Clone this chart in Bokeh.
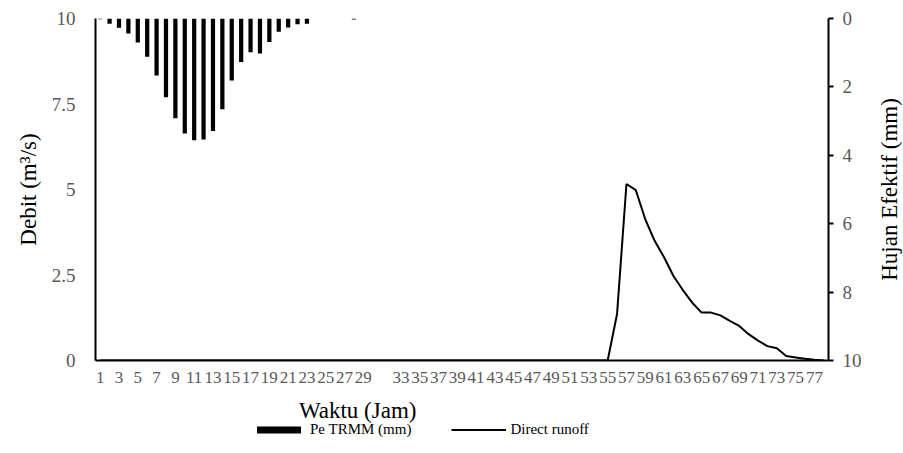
import math

from bokeh.plotting import figure
from bokeh.layouts import gridplot
from bokeh.models import (Range1d, LinearAxis, FixedTicker, Legend, LegendItem,
                          Label, ColumnDataSource)
from bokeh.embed import file_html
from bokeh.resources import INLINE

# Hourly time steps (Jam)
hours = list(range(1, 79))

# Effective rainfall, Pe TRMM (mm), one value per hour
rain = [0.02, 0.15, 0.27, 0.44, 0.70, 1.12, 1.67, 2.30, 2.92, 3.36,
        3.56, 3.54, 3.29, 2.65, 1.81, 1.27, 0.99, 1.02, 0.69, 0.39,
        0.26, 0.17, 0.15, 0.00, 0.00, 0.00, 0.00, 0.03, 0.00, 0.00,
        0.00, 0.00, 0.00, 0.00, 0.00, 0.00, 0.00, 0.00, 0.00, 0.00,
        0.00, 0.00, 0.00, 0.00, 0.00, 0.00, 0.00, 0.00, 0.00, 0.00,
        0.00, 0.00, 0.00, 0.00, 0.00, 0.00, 0.00, 0.00, 0.00, 0.00,
        0.00, 0.00, 0.00, 0.00, 0.00, 0.00, 0.00, 0.00, 0.00, 0.00,
        0.00, 0.00, 0.00, 0.00, 0.00, 0.00, 0.00, 0.00]

# Direct runoff (m3/s), one value per hour
runoff = [0.00, 0.00, 0.00, 0.00, 0.00, 0.00, 0.00, 0.00, 0.00, 0.00,
          0.00, 0.00, 0.00, 0.00, 0.00, 0.00, 0.00, 0.00, 0.00, 0.00,
          0.00, 0.00, 0.00, 0.00, 0.00, 0.00, 0.00, 0.00, 0.00, 0.00,
          0.00, 0.00, 0.00, 0.00, 0.00, 0.00, 0.00, 0.00, 0.00, 0.00,
          0.00, 0.00, 0.00, 0.00, 0.00, 0.00, 0.00, 0.00, 0.00, 0.00,
          0.00, 0.00, 0.00, 0.00, 0.00, 1.36, 5.16, 4.98, 4.13, 3.50,
          3.02, 2.47, 2.06, 1.69, 1.40, 1.40, 1.32, 1.16, 1.01, 0.77,
          0.58, 0.42, 0.36, 0.13, 0.09, 0.05, 0.02, 0.00]

# Labelled hours on the time axis
tick_hours = [1, 3, 5, 7, 9, 11, 13, 15, 17, 19, 21, 23, 25, 27, 29,
              33, 35, 37, 39, 41, 43, 45, 47, 49, 51, 53, 55, 57, 59,
              61, 63, 65, 67, 69, 71, 73, 75, 77]
debit_ticks = [0, 2.5, 5, 7.5, 10]
debit_tick_labels = ["0", "2.5", "5", "7.5", "10"]
rain_ticks = [0, 2, 4, 6, 8, 10]

FONT = "Liberation Serif"
GREY = "#595959"
TITLE_SIZE = "23px"

src = ColumnDataSource(dict(hour=hours, rain=rain, runoff=runoff))


def bare(fig):
    fig.outline_line_color = None
    fig.xgrid.visible = False
    fig.ygrid.visible = False
    return fig


# ---- main chart -------------------------------------------------------
p = bare(figure(width=878, height=390, output_backend="svg", toolbar_location=None,
                x_range=Range1d(0.5, 78.5), y_range=Range1d(0, 10),
                min_border_left=95, min_border_right=50,
                min_border_top=18, min_border_bottom=30))
p.extra_y_ranges = {"rain": Range1d(10, 0)}

# Rainfall bars hang from the top (reversed secondary axis)
p.vbar(x="hour", top=0, bottom="rain", width=0.45, source=src,
       y_range_name="rain", fill_color="black", line_color=None)
# Runoff hydrograph
p.line(x="hour", y="runoff", source=src, line_color="black", line_width=2)

# Bottom axis
xa = p.xaxis[0]
xa.ticker = FixedTicker(ticks=tick_hours)
xa.axis_line_color = "black"
xa.axis_line_width = 2
xa.major_tick_line_color = None
xa.minor_tick_line_color = None
xa.major_label_text_font = FONT
xa.major_label_text_font_size = "17px"
xa.major_label_text_color = GREY
xa.major_label_standoff = 5

# Left axis (Debit)
ya = p.yaxis[0]
ya.ticker = FixedTicker(ticks=debit_ticks)
ya.major_label_overrides = dict(zip(debit_ticks, debit_tick_labels))
ya.axis_line_color = "black"
ya.axis_line_width = 2
ya.major_tick_line_color = None
ya.minor_tick_line_color = None
ya.major_label_text_font = FONT
ya.major_label_text_font_size = "19px"
ya.major_label_text_color = GREY
ya.major_label_standoff = 14
ya.axis_label = "Debit (m³/s)"
ya.axis_label_text_font = FONT
ya.axis_label_text_font_size = TITLE_SIZE
ya.axis_label_text_font_style = "normal"
ya.axis_label_text_color = "black"
ya.axis_label_standoff = 8

# Right axis (Hujan Efektif); its title sits in the strip to the right
ra = LinearAxis(y_range_name="rain", ticker=FixedTicker(ticks=rain_ticks))
ra.axis_line_color = "black"
ra.axis_line_width = 2
ra.major_tick_line_color = "black"
ra.major_tick_line_width = 2
ra.major_tick_in = 0
ra.major_tick_out = 5
ra.minor_tick_line_color = None
ra.major_label_text_font = FONT
ra.major_label_text_font_size = "19px"
ra.major_label_text_color = GREY
ra.major_label_standoff = 9
p.add_layout(ra, "right")

# ---- right strip: secondary axis title, reading bottom-to-top -------
r = bare(figure(width=25, height=390, output_backend="svg", toolbar_location=None,
                x_range=Range1d(0, 1), y_range=p.y_range,
                x_axis_location=None, y_axis_location=None, min_border=0))
r.add_layout(Label(x=0.45, y=5, text="Hujan Efektif (mm)", angle=math.pi / 2,
                   text_font=FONT, text_font_size=TITLE_SIZE, text_color="black",
                   text_align="center", text_baseline="middle"))

# ---- bottom strip: time-axis title and legend -------------------------
q = bare(figure(width=878, height=63, output_backend="svg", toolbar_location=None,
                x_range=p.x_range, y_range=Range1d(0, 63),
                x_axis_location=None, y_axis_location=None, min_border=0))
q.add_layout(Label(x=28.4, y=43, text="Waktu (Jam)", text_font=FONT,
                   text_font_size=TITLE_SIZE, text_color="black",
                   text_align="center", text_baseline="middle"))

# legend keys reuse the series, mapped onto a range that lies off-screen
q.extra_y_ranges = {"key": Range1d(100, 200)}
key_bar = q.vbar(x="hour", top=0, bottom="rain", width=0.45, source=src,
                 y_range_name="key", fill_color="black", line_color=None)
key_line = q.line(x="hour", y="runoff", source=src, y_range_name="key",
                  line_color="black", line_width=2)

legend = Legend(items=[LegendItem(label="Pe TRMM (mm)", renderers=[key_bar]),
                       LegendItem(label="Direct runoff", renderers=[key_line])],
                orientation="horizontal", location=(156, 15),
                glyph_width=55, glyph_height=9, label_standoff=4, spacing=40,
                padding=0, margin=0, border_line_color=None,
                background_fill_alpha=0, label_height=16,
                label_text_font=FONT, label_text_font_size="15px",
                label_text_color="black")
q.add_layout(legend, "center")

grid = gridplot([[p, r], [q, None]], toolbar_location=None)
open("out.html", "w").write(file_html(grid, INLINE))
